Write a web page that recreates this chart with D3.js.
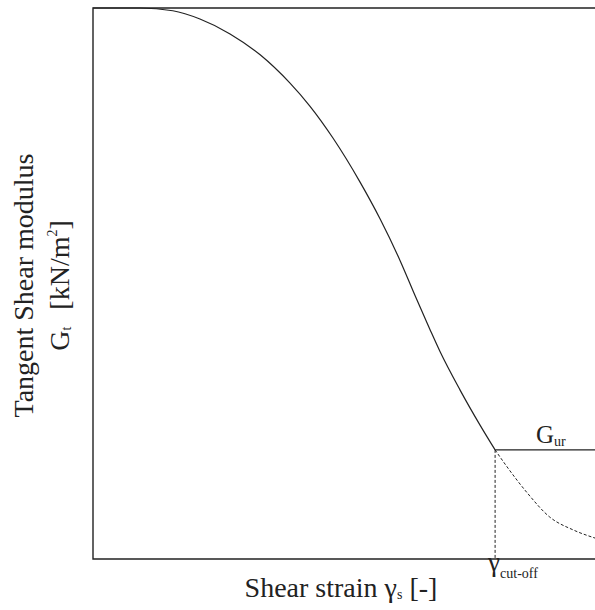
<!DOCTYPE html>
<html>
<head>
<meta charset="utf-8">
<script src="https://cdn.jsdelivr.net/npm/d3@7"></script>
<style>
  body { margin: 0; background: #fff; }
  text { font-family: "Liberation Serif", "DejaVu Serif", serif; fill: #222; }
</style>
</head>
<body>
<svg id="chart"></svg>
<script>
const width = 595;
const height = 610;
const margin = { top: 8, right: 0, bottom: 51, left: 93 };

// shear strain (normalised 0-100) and tangent shear modulus (normalised 0-100)
const strain  = [0, 9.4, 15.9, 21.3, 27.3, 33.3, 39.2, 43.2, 47.8, 53.2, 57.2, 61.2, 64.3, 67.1, 69.1, 73.1, 77.1, 80.1];
const modulus = [100, 100, 99.5, 98.0, 95.3, 91.5, 86.4, 82.2, 76.4, 68.4, 61.7, 54.1, 47.5, 41.7, 37.7, 30.7, 24.3, 19.8];

// continuation beyond cut-off (dashed)
const strainTail  = [80.1, 82.5, 86.5, 91.0, 95.6, 100];
const modulusTail = [19.8, 16.7, 12.0, 7.6, 5.3, 3.8];

const cutOff = 80.1;
const gUr = 19.8;

const svg = d3.select('#chart')
    .attr('width', width)
    .attr('height', height);

const x = d3.scaleLinear()
    .domain([0, 100])
    .range([margin.left, width - margin.right]);

const y = d3.scaleLinear()
    .domain([0, 100])
    .range([height - margin.bottom, margin.top]);

const stroke = '#222';

// frame: left, bottom, top (no right border)
svg.append('path')
    .attr('d', `M${x(100)},${y(100)}H${x(0)}V${y(0)}H${x(100)}`)
    .attr('fill', 'none')
    .attr('stroke', stroke)
    .attr('stroke-width', 1.4);

const line = d3.line()
    .x(d => x(d[0]))
    .y(d => y(d[1]))
    .curve(d3.curveMonotoneX);

svg.append('path')
    .datum(d3.zip(strain, modulus))
    .attr('d', line)
    .attr('fill', 'none')
    .attr('stroke', stroke)
    .attr('stroke-width', 1.2);

svg.append('path')
    .datum(d3.zip(strainTail, modulusTail))
    .attr('d', line)
    .attr('fill', 'none')
    .attr('stroke', stroke)
    .attr('stroke-width', 1)
    .attr('stroke-dasharray', '3,2');

// G_ur horizontal
svg.append('line')
    .attr('x1', x(cutOff)).attr('x2', x(100))
    .attr('y1', y(gUr)).attr('y2', y(gUr))
    .attr('stroke', stroke)
    .attr('stroke-width', 1.3);

// cut-off vertical (dashed)
svg.append('line')
    .attr('x1', x(cutOff)).attr('x2', x(cutOff))
    .attr('y1', y(gUr)).attr('y2', y(0))
    .attr('stroke', stroke)
    .attr('stroke-width', 1)
    .attr('stroke-dasharray', '3,2');

// labels
const gLabel = svg.append('text')
    .attr('x', 536)
    .attr('y', 443)
    .attr('font-size', 25);
gLabel.append('tspan').text('G');
gLabel.append('tspan').attr('font-size', 14).attr('dy', 3).text('ur');

const cLabel = svg.append('text')
    .attr('x', x(cutOff) - 7)
    .attr('y', 571)
    .attr('font-size', 27);
cLabel.append('tspan').text('γ');
cLabel.append('tspan').attr('font-size', 14).attr('dy', 7).text('cut-off');

const xTitle = svg.append('text')
    .attr('x', (x(0) + x(100)) / 2 - 3)
    .attr('y', 597)
    .attr('text-anchor', 'middle')
    .attr('font-size', 28);
xTitle.append('tspan').text('Shear strain γ');
xTitle.append('tspan').attr('font-size', 14).attr('dy', 2).text('s');
xTitle.append('tspan').attr('dy', -2).text(' [-]');

const yTitle = svg.append('g')
    .attr('transform', `translate(33, ${(y(0) + y(100)) / 2 + 2}) rotate(-90)`);
yTitle.append('text')
    .attr('text-anchor', 'middle')
    .attr('font-size', 28)
    .text('Tangent Shear modulus');
const y2 = yTitle.append('text')
    .attr('y', 36)
    .attr('text-anchor', 'middle')
    .attr('font-size', 28);
y2.append('tspan').text('G');
y2.append('tspan').attr('font-size', 14).attr('dy', 2).text('t');
y2.append('tspan').attr('dy', -2).attr('dx', 10).text(' [kN/m');
y2.append('tspan').attr('font-size', 14).attr('dy', -12).text('2');
y2.append('tspan').attr('dy', 12).text(']');
</script>
</body>
</html>
